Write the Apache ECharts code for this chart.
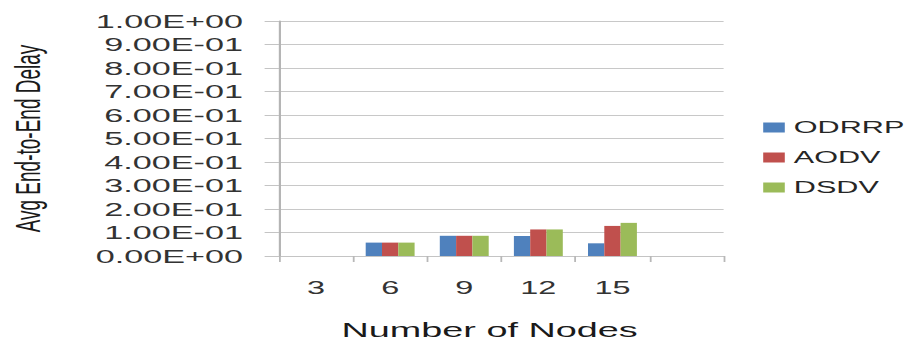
<!DOCTYPE html>
<html>
<head>
<meta charset="utf-8">
<script src="https://cdn.jsdelivr.net/npm/echarts@6/dist/echarts.min.js"></script>
<style>
  html, body { margin: 0; padding: 0; background: #fff; overflow: hidden; }
  #wrap { width: 909px; height: 340px; overflow: hidden; }
  /* the chart is laid out narrow and widened horizontally */
  #chart { width: 505px; height: 340px; transform: scaleX(1.8); transform-origin: 0 0; }
</style>
</head>
<body>
<div id="wrap"><div id="chart"></div></div>
<script>
// Number of nodes per scenario (last slot left empty)
const nodeCounts = ['3', '6', '9', '12', '15', ''];

// Average end-to-end delay per protocol
const odrrp = [0, 0.057, 0.086, 0.085, 0.054, null];
const aodv  = [0, 0.057, 0.086, 0.113, 0.128, null];
const dsdv  = [0, 0.057, 0.086, 0.113, 0.141, null];

// Y tick labels, 0 to 1 in steps of 0.1
const yTickLabels = [
  '0.00E+00', '1.00E-01', '2.00E-01', '3.00E-01', '4.00E-01', '5.00E-01',
  '6.00E-01', '7.00E-01', '8.00E-01', '9.00E-01', '1.00E+00'
];

const FONT = '"Liberation Sans", Arial, sans-serif';
const chart = echarts.init(document.getElementById('chart'), null, { renderer: 'svg' });

chart.setOption({
  animation: false,
  backgroundColor: '#ffffff',
  color: ['#4F81BD', '#C0504D', '#9BBB59'],
  textStyle: { fontFamily: FONT },
  grid: { left: 155, right: 103, top: 21, bottom: 84, outerBoundsMode: 'none', containLabel: false },
  legend: {
    orient: 'vertical',
    left: 424,
    top: 119,
    padding: 0,
    itemWidth: 12,
    itemHeight: 10,
    itemGap: 13,
    icon: 'rect',
    textStyle: { fontFamily: FONT, fontSize: 17, color: '#262626', padding: [0, 0, 0, 0] },
    data: ['ODRRP', 'AODV', 'DSDV']
  },
  xAxis: {
    type: 'category',
    data: nodeCounts,
    boundaryGap: true,
    name: 'Number of Nodes',
    nameLocation: 'middle',
    nameGap: 63,
    nameTextStyle: { fontFamily: FONT, fontSize: 21, color: '#1a1a1a', padding: [0, 13, 0, 0] },
    axisLine: { lineStyle: { color: '#C4C4C4', width: 1 } },
    axisTick: { show: true, length: 6, interval: 0, lineStyle: { color: '#B8B8B8', width: 1 } },
    axisLabel: { fontFamily: FONT, fontSize: 18, color: '#333333', margin: 23, interval: 0 },
    splitLine: { show: false }
  },
  yAxis: {
    type: 'value',
    min: 0,
    max: 1,
    interval: 0.1,
    name: 'Avg End-to-End Delay',
    nameLocation: 'middle',
    nameRotate: 90,
    nameGap: 130,
    nameTextStyle: { fontFamily: FONT, fontSize: 19, color: '#1a1a1a' },
    axisLine: { show: true, lineStyle: { color: '#B4B4B4', width: 1.2 } },
    axisTick: { show: true, length: 8, lineStyle: { color: '#C4C4C4', width: 1 } },
    axisLabel: {
      fontFamily: FONT, fontSize: 19, color: '#333333', margin: 20,
      formatter: v => yTickLabels[Math.round(v * 10)]
    },
    splitLine: { show: true, lineStyle: { color: '#C8C8C8', width: 1 } }
  },
  series: [
    { name: 'ODRRP', type: 'bar', data: odrrp, barGap: '0%', barCategoryGap: '34%' },
    { name: 'AODV',  type: 'bar', data: aodv,  barGap: '0%', barCategoryGap: '34%' },
    { name: 'DSDV',  type: 'bar', data: dsdv,  barGap: '0%', barCategoryGap: '34%' }
  ]
});
</script>
</body>
</html>
